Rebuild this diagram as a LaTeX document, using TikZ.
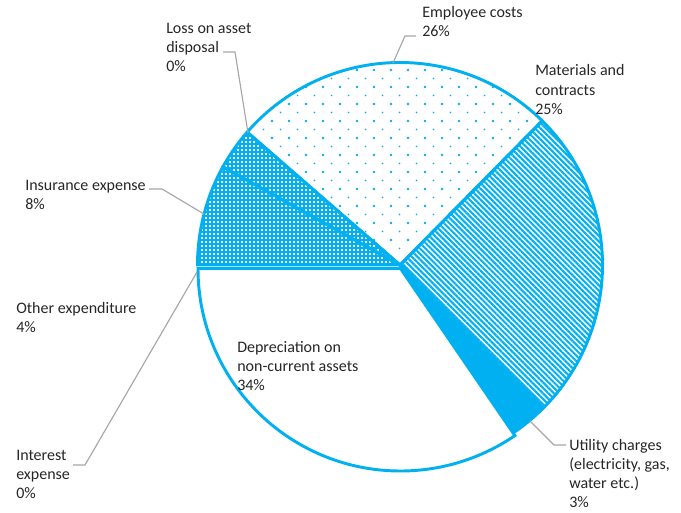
\documentclass[tikz,border=0pt]{standalone}
\usepackage{fontspec}
\setmainfont{Carlito}
\usetikzlibrary{patterns.meta}
\definecolor{pieblue}{RGB}{0,176,240}
\definecolor{leader}{RGB}{166,166,166}
\definecolor{txt}{RGB}{38,38,38}
\tikzset{
  lbl/.style={anchor=north west,inner sep=0pt,align=left,text=txt,
    font=\fontsize{12pt}{14.4pt}\selectfont},
  leaderline/.style={draw=leader,line width=0.85pt},
  sliceline/.style={draw=pieblue,line width=2.2pt},
}
\begin{document}
\begin{tikzpicture}[x=0.75pt,y=0.75pt]
\useasboundingbox (0,0) rectangle (681,512);
\coordinate (C) at (400,247);
\def\R{202.5}
% Employee costs (dots)
\fill[pattern={Dots[distance=12.75pt,radius=1pt]},pattern color=pieblue]
  (C) -- ++(45.4:\R) arc[start angle=45.4,end angle=139,radius=\R] -- cycle;
\fill[pattern={Dots[distance=12.75pt,radius=0.7pt,xshift=6.4pt,yshift=6.4pt]},pattern color=pieblue]
  (C) -- ++(45.4:\R) arc[start angle=45.4,end angle=139,radius=\R] -- cycle;
\draw[sliceline] (C) -- ++(45.4:\R) arc[start angle=45.4,end angle=139,radius=\R] -- cycle;
% Loss on asset disposal
\fill[pattern={Hatch[angle=0,distance=3pt,line width=1.2pt]},pattern color=pieblue]
  (C) -- ++(139:\R) arc[start angle=139,end angle=151,radius=\R] -- cycle;
\draw[sliceline] (C) -- ++(139:\R) arc[start angle=139,end angle=151,radius=\R] -- cycle;
% Insurance expense
\fill[pattern={Hatch[angle=0,distance=3pt,line width=1.5pt]},pattern color=pieblue]
  (C) -- ++(151:\R) arc[start angle=151,end angle=180,radius=\R] -- cycle;
\draw[sliceline] (C) -- ++(151:\R) arc[start angle=151,end angle=180,radius=\R] -- cycle;
% Depreciation (exploded slightly)
\coordinate (D) at (400.5,243.5);
\draw[sliceline,fill=white] (D) -- ++(180:\R) arc[start angle=180,end angle=304.4,radius=\R] -- cycle;
% Utility charges
\draw[sliceline,fill=pieblue] (C) -- ++(304.4:\R) arc[start angle=304.4,end angle=315,radius=\R] -- cycle;
% Materials and contracts (stripes)
\fill[pattern={Lines[angle=-45,distance=2.9pt,line width=1.55pt]},pattern color=pieblue]
  (C) -- ++(315:\R) arc[start angle=315,end angle=405.4,radius=\R] -- cycle;
\draw[sliceline] (C) -- ++(315:\R) arc[start angle=315,end angle=405.4,radius=\R] -- cycle;

% labels
\node[lbl] (emp) at (422,506) {Employee costs\\26\%};
\node[lbl] (mat) at (535,447.5) {Materials and\\contracts\\25\%};
\node[lbl] (loss) at (166,489.5) {Loss on asset\\disposal\\0\%};
\node[lbl] (ins) at (25,332.5) {Insurance expense\\8\%};
\node[lbl] (oth) at (16,210) {Other expenditure\\4\%};
\node[lbl] (int) at (16,62) {Interest\\expense\\0\%};
\node[lbl] (dep) at (237,171) {Depreciation on\\non-current assets\\34\%};
\node[lbl] (uti) at (569,73) {Utility charges\\(electricity, gas,\\water etc.)\\3\%};

% leader lines
\coordinate (empA) at (393,449); \coordinate (empB) at (405,476); \coordinate (empC) at (416,476);
\coordinate (lossA) at (248,379); \coordinate (lossB) at (235,460); \coordinate (lossC) at (223,460);
\coordinate (insA) at (204,298); \coordinate (insB) at (162,323); \coordinate (insC) at (149,323);
\coordinate (intA) at (197,240); \coordinate (intB) at (85,47); \coordinate (intC) at (73,47);
\coordinate (utiA) at (530,91); \coordinate (utiB) at (554,67); \coordinate (utiC) at (566,67);
\draw[leaderline] (empA) -- (empB) -- (empC);
\draw[leaderline] (lossA) -- (lossB) -- (lossC);
\draw[leaderline] (insA) -- (insB) -- (insC);
\draw[leaderline] (intA) -- (intB) -- (intC);
\draw[leaderline] (utiA) -- (utiB) -- (utiC);
\end{tikzpicture}
\end{document}
